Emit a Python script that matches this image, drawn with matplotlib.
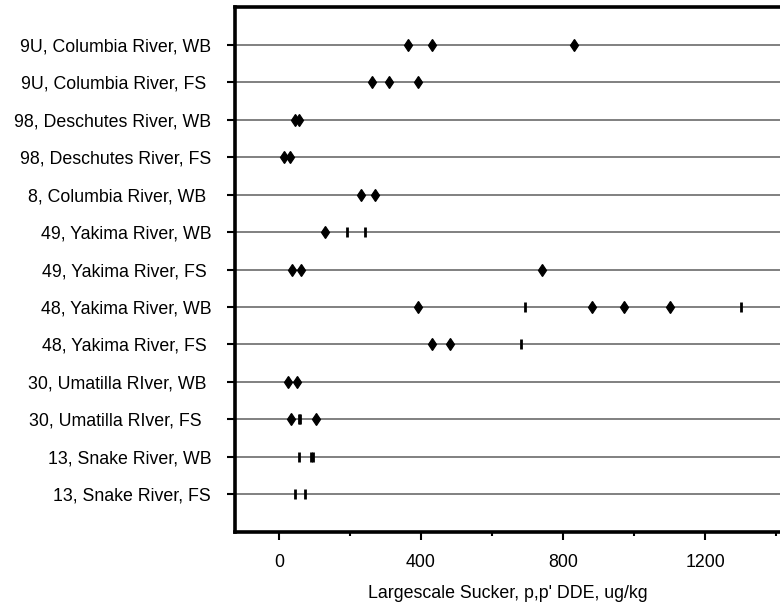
import matplotlib
matplotlib.use("Agg")
import matplotlib.pyplot as plt
from matplotlib.ticker import MultipleLocator

# sites, top to bottom
sites = ["9U, Columbia River, WB", "9U, Columbia River, FS ", "98, Deschutes River, WB",
         "98, Deschutes River, FS", "8, Columbia River, WB ", "49, Yakima River, WB",
         "49, Yakima River, FS ", "48, Yakima River, WB", "48, Yakima River, FS ",
         "30, Umatilla RIver, WB ", "30, Umatilla RIver, FS  ", "13, Snake River, WB",
         "13, Snake River, FS"]

# detected concentrations (diamonds)
detected = [[363, 431, 831], [262, 311, 393], [45, 56], [15, 32], [232, 272],
            [131], [38, 63, 741], [393, 883, 972, 1102], [431, 481],
            [25, 50], [35, 105], [], []]

# below reporting level (bars)
censored = [[], [], [], [], [], [193, 243], [], [694, 1301], [682],
            [], [57, 61], [57, 91, 95], [46, 74]]

plt.rcParams['font.family'] = ['Liberation Sans', 'DejaVu Sans']
fig = plt.figure(figsize=(7.8, 6.05), dpi=100)
ax = fig.add_axes([0.301, 0.121, 0.699, 0.867])

n = len(sites)
for i in range(n):
    y = n - i
    if detected[i]:
        ax.plot(detected[i], [y] * len(detected[i]), linestyle='none', marker='d',
                ms=6.5, mfc='black', mec='black', mew=0.9, zorder=3)
    if censored[i]:
        ax.plot(censored[i], [y] * len(censored[i]), linestyle='none', marker='|',
                ms=6.8, mec='black', mew=2.0, zorder=3)

ax.set_xlim(-124, 1411)
ax.set_ylim(0, n + 1)
ax.set_yticks(range(n, 0, -1))
ax.set_yticklabels(sites, fontsize=12.8)
ax.yaxis.grid(True, color='#808080', linewidth=1.4)
ax.set_axisbelow(True)

ax.xaxis.set_major_locator(MultipleLocator(400))
ax.xaxis.set_minor_locator(MultipleLocator(200))
ax.set_xticks([0, 400, 800, 1200])
ax.tick_params(axis='x', which='major', length=6, width=1.5, pad=10, labelsize=12.8)
ax.tick_params(axis='x', which='minor', length=3, width=1.5)
ax.tick_params(axis='y', length=6, width=1.5, pad=11)
ax.set_xlabel("Largescale Sucker, p,p' DDE, ug/kg", fontsize=12.8, labelpad=10)

for s in ['top', 'left', 'bottom']:
    ax.spines[s].set_linewidth(2.6)
ax.spines['right'].set_visible(False)

fig.savefig("out.png", dpi=100)
